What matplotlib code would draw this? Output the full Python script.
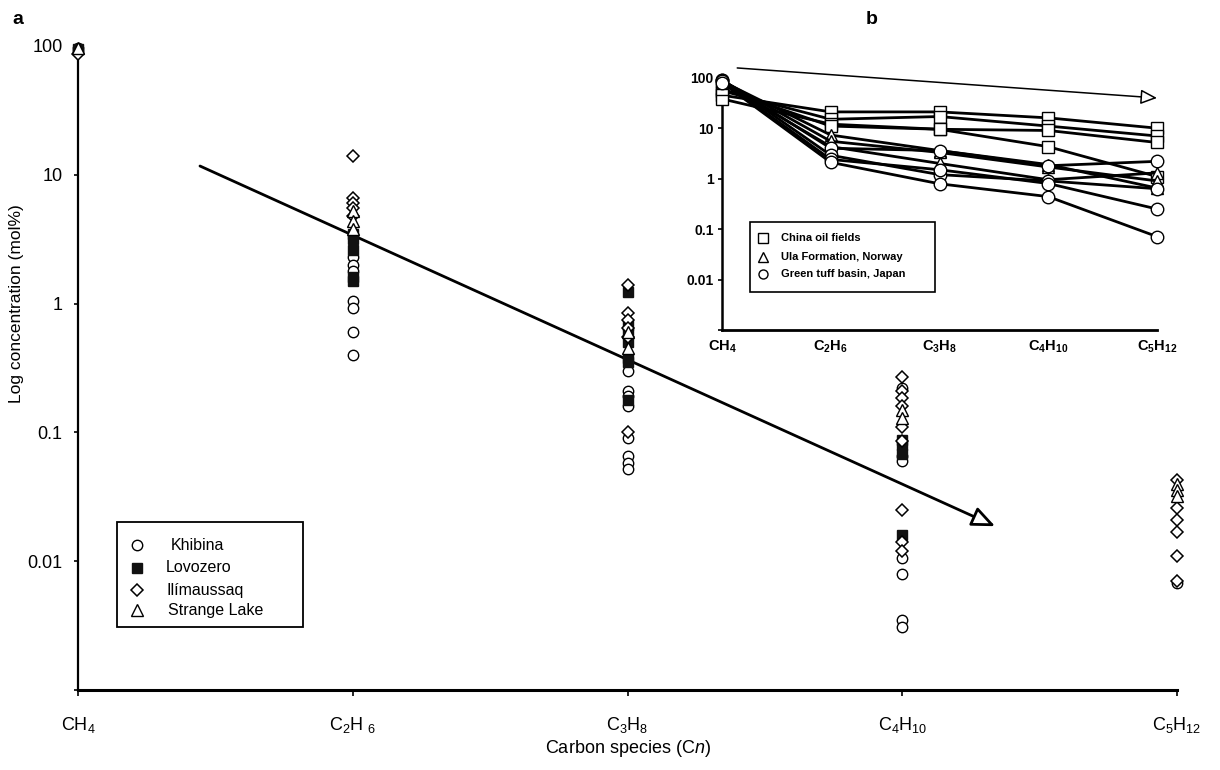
import matplotlib
matplotlib.use('Agg')
import matplotlib.pyplot as plt
from matplotlib.lines import Line2D
from matplotlib.patches import Rectangle

plt.rcParams['font.family'] = ['Liberation Sans', 'DejaVu Sans']
plt.rcParams['mathtext.fontset'] = 'custom'
plt.rcParams['mathtext.rm'] = 'Liberation Sans'
plt.rcParams['mathtext.it'] = 'Liberation Sans:italic'
plt.rcParams['mathtext.bf'] = 'Liberation Sans:bold'

# ---------------- data ----------------
species = ['CH4', 'C2H6', 'C3H8', 'C4H10', 'C5H12']
main_xlabels = [r'$\mathrm{CH_4}$', r'$\mathrm{C_2H\ _6}$', r'$\mathrm{C_3H_8}$',
                r'$\mathrm{C_4H_{10}}$', r'$\mathrm{C_5H_{12}}$']
inset_xlabels = [r'$\mathbf{CH_4}$', r'$\mathbf{C_2H_6}$', r'$\mathbf{C_3H_8}$',
                 r'$\mathbf{C_4H_{10}}$', r'$\mathbf{C_5H_{12}}$']
ytick_vals = [0.001, 0.01, 0.1, 1, 10, 100]
ytick_labels = ['', '0.01', '0.1', '1', '10', '100']

# main panel (a): concentrations per species index
khibina = [[97, 91],
           [2.3, 2.0, 1.8, 1.05, 0.92, 0.6, 0.4],
           [0.30, 0.21, 0.19, 0.16, 0.09, 0.065, 0.058, 0.052],
           [0.22, 0.065, 0.06, 0.0105, 0.008, 0.0035, 0.0031],
           [0.0068]]
lovozero = [[95],
            [3.5, 3.2, 2.6, 1.6, 1.5],
            [1.22, 0.68, 0.6, 0.5, 0.38, 0.35, 0.18],
            [0.088, 0.08, 0.068, 0.016],
            []]
ilimaussaq = [[86],
              [14, 6.6, 6.0, 5.5, 4.8],
              [1.4, 0.85, 0.75, 0.65, 0.55, 0.1],
              [0.27, 0.21, 0.185, 0.16, 0.11, 0.085, 0.025, 0.014, 0.012],
              [0.043, 0.026, 0.021, 0.017, 0.011, 0.007]]
strange_lake = [[96],
                [5.2, 4.4, 3.8],
                [0.6, 0.45],
                [0.15, 0.13],
                [0.040, 0.036, 0.032]]

trend_start = (0.444, 11.7)
trend_end = (3.338, 0.0187)

# inset panel (b): one list per sample across the five species
china = [[45, 21, 21, 16, 10],
         [55, 15, 17, 11, 7],
         [38, 12, 9.5, 9, 5.2],
         [60, 11, 9.5, 4.3, 1.1]]
ula = [[85, 7.3, 3.6, 1.9, 0.65],
       [80, 4.3, 2.0, 0.95, 1.3],
       [88, 5.5, 3.3, 1.7, 0.9]]
green = [[90, 4.0, 3.6, 1.8, 2.2],
         [92, 2.9, 1.2, 0.9, 0.63],
         [85, 2.4, 1.5, 0.8, 0.25],
         [80, 2.1, 0.79, 0.44, 0.071]]
inset_trend_start = (0.14, 156)
inset_trend_end = (4.0, 39.6)

# ---------------- figure ----------------
W, H = 1220, 770
fig = plt.figure(figsize=(W / 100, H / 100), dpi=100)

def fx(px):
    return px / W

def fy(py):
    return 1 - py / H

ax = fig.add_axes([fx(78), fy(690), fx(1177) - fx(78), fy(46) - fy(690)])
ax.set_yscale('log')
ax.set_xlim(0, 4)
ax.set_ylim(0.001, 100)
for s in ['top', 'right']:
    ax.spines[s].set_visible(False)
ax.spines['left'].set_linewidth(1.6)
ax.spines['bottom'].set_linewidth(2.2)
ax.set_yticks(ytick_vals)
ax.set_yticklabels(ytick_labels, fontsize=13)
ax.yaxis.set_minor_locator(matplotlib.ticker.NullLocator())
ax.set_xticks(range(5))
ax.set_xticklabels(main_xlabels, fontsize=13)
ax.tick_params(axis='x', length=4, width=1.2, pad=14)
ax.tick_params(axis='y', length=3, width=1.2, pad=8)
ax.set_ylabel('Log concentration (mol%)', fontsize=12.5)
ax.yaxis.set_label_coords(-0.049, 0.6)
ax.set_xlabel(r'Carbon species (C$\mathit{n}$)', fontsize=13)
ax.xaxis.set_label_coords(0.5, -0.075)

styles = [
    (khibina, dict(marker='o', ms=7.5, mfc='white', mec='black', mew=1.0)),
    (lovozero, dict(marker='s', ms=7.5, mfc='#111111', mec='#111111', mew=1.0)),
    (ilimaussaq, dict(marker='D', ms=6.0, mfc='white', mec='black', mew=1.1)),
    (strange_lake, dict(marker='^', ms=8.0, mfc='white', mec='black', mew=1.0)),
]
for data, st in styles:
    for i, vals in enumerate(data):
        if vals:
            ax.plot([i] * len(vals), vals, ls='none', clip_on=False, zorder=3, **st)

ax.annotate('', xy=trend_end, xytext=trend_start,
            arrowprops=dict(arrowstyle='-|>,head_length=1.4,head_width=0.6',
                            lw=2.0, ec='black', fc='white', shrinkA=0, shrinkB=0),
            zorder=2)

# main legend (drawn in figure coordinates)
fig.add_artist(Rectangle((fx(117), fy(627)), fx(303) - fx(117), fy(522) - fy(627),
                         transform=fig.transFigure, fill=False, ec='black', lw=1.3))
leg_items = [('Khibina', styles[0][1], 545, 171),
             ('Lovozero', styles[1][1], 568, 166),
             ('Ilímaussaq', styles[2][1], 590, 166),
             ('Strange Lake', styles[3][1], 610, 168)]
for lab, st, yy, tx in leg_items:
    fig.add_artist(Line2D([fx(137)], [fy(yy)], transform=fig.transFigure, ls='none', **st))
    fig.text(fx(tx), fy(yy), lab, fontsize=11.5, va='center', ha='left')

fig.text(fx(12), fy(20), 'a', fontsize=14, fontweight='bold', va='center')
fig.text(fx(866), fy(20), 'b', fontsize=14, fontweight='bold', va='center')

# ---------------- inset ----------------
ax2 = fig.add_axes([fx(722), fy(330), fx(1157) - fx(722), fy(77.7) - fy(330)])
ax2.set_yscale('log')
ax2.set_xlim(0, 4)
ax2.set_ylim(0.001, 100)
ax2.patch.set_alpha(0)
for s in ['top', 'right']:
    ax2.spines[s].set_visible(False)
ax2.spines['left'].set_linewidth(1.8)
ax2.spines['bottom'].set_linewidth(2.0)
ax2.set_yticks(ytick_vals)
ax2.set_yticklabels(ytick_labels, fontsize=10, fontweight='bold')
ax2.yaxis.set_minor_locator(matplotlib.ticker.NullLocator())
ax2.set_xticks(range(5))
ax2.set_xticklabels(inset_xlabels, fontsize=10.5)
ax2.tick_params(axis='x', length=0, pad=6)
ax2.tick_params(axis='y', length=3, width=1.2, pad=3)

xs = list(range(5))
inset_styles = [
    (china, dict(marker='s', ms=9, mfc='white', mec='black', mew=1.0)),
    (ula, dict(marker='^', ms=9, mfc='white', mec='black', mew=1.0)),
    (green, dict(marker='o', ms=9, mfc='white', mec='black', mew=1.0)),
]
for data, st in inset_styles:
    for vals in data:
        ax2.plot(xs, vals, color='black', lw=2.0, clip_on=False, zorder=3, **st)

ax2.annotate('', xy=inset_trend_end, xytext=inset_trend_start,
             arrowprops=dict(arrowstyle='-|>,head_length=1.0,head_width=0.45',
                             lw=1.1, ec='black', fc='white', shrinkA=0, shrinkB=0),
             annotation_clip=False)

fig.add_artist(Rectangle((fx(750), fy(292)), fx(935) - fx(750), fy(222) - fy(292),
                         transform=fig.transFigure, fill=True, fc='white', ec='black', lw=1.2, zorder=5))
inset_leg = [('China oil fields', inset_styles[0][1], 238),
             ('Ula Formation, Norway', inset_styles[1][1], 257),
             ('Green tuff basin, Japan', inset_styles[2][1], 274)]
for lab, st, yy in inset_leg:
    st2 = dict(st)
    st2['ms'] = 6.5
    fig.add_artist(Line2D([fx(763)], [fy(yy)], transform=fig.transFigure, ls='none', zorder=6, **st2))
    fig.text(fx(781), fy(yy), lab, fontsize=8, fontweight='bold', va='center', ha='left', zorder=6)

fig.savefig('out.png', dpi=100)
